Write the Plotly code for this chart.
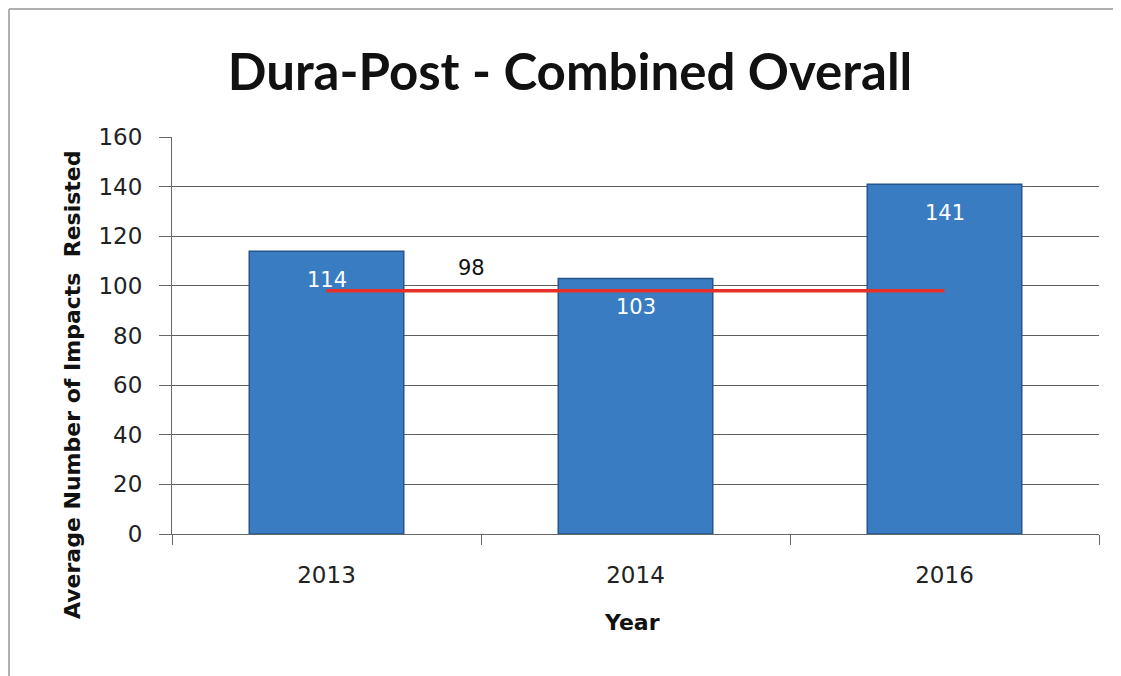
import plotly.graph_objects as go

years = ["2013", "2014", "2016"]
impacts = [114, 103, 141]
overall_avg = [98, 98, 98]
y_ticks = [0, 20, 40, 60, 80, 100, 120, 140, 160]

OFF = 8  # default page margin offset of the figure inside the browser
SW, SH = 1121, 676
W, H = SW - OFF, SH - OFF
L, R, T, B = 172 - OFF, 1099 - OFF, 137 - OFF, 534 - OFF
pw, ph = R - L, B - T

def px(x):  # screen x -> paper
    return (x - OFF - L) / pw

def py(y):  # screen y -> paper
    return (B - (y - OFF)) / ph

fig = go.Figure()
fig.add_trace(go.Bar(
    x=years, y=impacts, width=0.5,
    marker=dict(color="#3a7cc2", line=dict(color="#24558c", width=1.5)),
    showlegend=False,
))
fig.add_trace(go.Scatter(
    x=years, y=overall_avg, mode="lines",
    line=dict(color="#e8302a", width=3.5), showlegend=False,
))
for i, v in enumerate(impacts):
    fig.add_annotation(x=i, y=v, xref="x", yref="y", text=str(v), showarrow=False, yshift=-29,
                       font=dict(size=21, color="white", family="DejaVu Sans"))
fig.add_annotation(x=0.47, y=overall_avg[0], xref="x", yref="y", text=str(overall_avg[0]),
                   showarrow=False, yshift=23, font=dict(size=21, color="#111", family="DejaVu Sans"))

fig.add_annotation(x=px(72), y=py(385), xref="paper", yref="paper", xanchor="center", yanchor="middle",
                   text="Average Number of Impacts  Resisted", textangle=-90, showarrow=False,
                   font=dict(size=22, color="#111", family="DejaVu Sans", weight="bold"))
fig.add_annotation(x=px(632), y=py(622), xref="paper", yref="paper", xanchor="center", yanchor="middle",
                   text="Year", showarrow=False,
                   font=dict(size=22, color="#111", family="DejaVu Sans", weight="bold"))

# outer frame
fig.add_shape(type="line", xref="paper", yref="paper", x0=px(OFF + 1), x1=px(SW + 5), y0=py(OFF + 1), y1=py(OFF + 1),
              line=dict(color="#b0b0b0", width=2))
fig.add_shape(type="line", xref="paper", yref="paper", x0=px(OFF + 1), x1=px(OFF + 1), y0=py(OFF + 1), y1=py(SH + 5),
              line=dict(color="#b0b0b0", width=2))

fig.update_layout(
    width=W, height=H,
    margin=dict(l=L, r=W - R, t=T, b=H - B),
    paper_bgcolor="white", plot_bgcolor="white",
    title=dict(text="Dura-Post - Combined Overall", xref="paper", x=px(570), xanchor="center",
               yref="container", y=1 - (72 - OFF) / H, yanchor="middle",
               font=dict(size=51, color="#111", family="Lato", weight="bold")),
    xaxis=dict(
        type="category", range=[-0.5, 2.5],
        tickfont=dict(size=23, color="#222", family="DejaVu Sans"),
        ticks="outside", tickson="boundaries", ticklen=10, tickcolor="#666",
        ticklabelstandoff=20,
        showline=True, linecolor="#666", linewidth=1,
    ),
    yaxis=dict(
        range=[0, 160], tickvals=y_ticks, ticks="outside", ticklen=12, tickcolor="#666",
        ticklabelstandoff=12,
        tickfont=dict(size=23, color="#222", family="DejaVu Sans"),
        showgrid=True, gridcolor="#5e5e5e", gridwidth=1,
        showline=True, linecolor="#666", linewidth=1, zeroline=False,
    ),
)

fig.write_html("out.html")
